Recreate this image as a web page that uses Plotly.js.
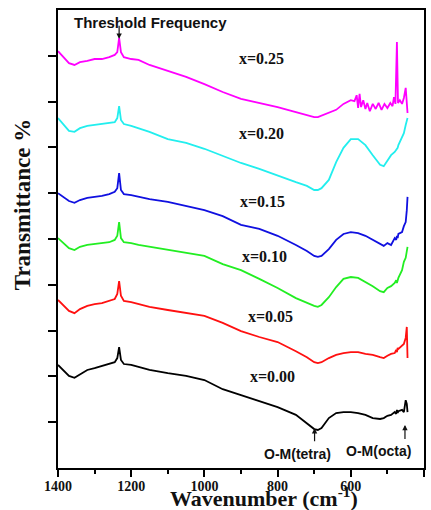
<!DOCTYPE html>
<html>
<head>
<meta charset="utf-8">
<script src="https://cdn.plot.ly/plotly-3.0.1.min.js"></script>
<style>html,body{margin:0;padding:0;background:#fff;}#chart{width:431px;height:510px;}</style>
</head>
<body>
<div id="chart"></div>
<script>
// Wavenumber (cm^-1), shared by the spectra x=0.00 ... x=0.20
const wavenumber = [1400,1385,1370,1355,1340,1320,1300,1280,1260,1245,1238,1233,1228,1220,1200,1180,1150,1100,1050,1000,950,900,850,800,750,720,700,690,680,660,640,620,600,580,560,540,520,510,500,490,480,476,474,472,470,460,455,450,447,445];
// the x=0.25 spectrum is noisier at low wavenumber, so it has its own sampling
const wavenumber025 = [1400,1385,1370,1355,1340,1320,1300,1280,1260,1245,1238,1233,1228,1220,1200,1180,1150,1100,1050,1000,950,900,850,800,750,720,700,690,680,660,640,620,600,590,584,580,576,572,566,560,555,548,540,532,524,516,508,500,492,486,482,478,474,471,466,460,455,450,447,445];

// Transmittance (offset, arbitrary %) per composition
const t025 = [91.0,89.7,88.4,88.0,88.6,88.9,89.3,89.3,89.7,90.2,90.8,93.9,90.8,89.7,89.3,89.1,88.0,86.7,85.4,83.8,82.1,80.6,79.7,78.8,77.7,77.1,76.6,76.6,76.9,77.5,78.2,79.5,80.3,80.1,81.4,78.6,81.7,78.8,80.3,78.4,79.7,77.9,79.5,78.4,79.7,78.2,79.5,78.6,79.7,79.0,81.0,79.5,93.0,79.7,80.3,79.5,80.8,83.0,80.3,77.5];
const t020 = [76.4,75.1,73.6,73.4,74.2,74.7,74.9,75.1,75.3,75.5,76.4,79.0,76.0,75.1,74.7,74.2,73.4,71.8,71.0,69.7,68.1,66.6,65.3,63.8,62.4,61.6,60.7,60.7,61.1,62.9,66.8,69.9,71.8,71.8,70.5,68.3,66.2,65.9,67.2,68.3,69.0,69.4,69.7,69.9,70.5,72.1,73.1,74.9,76.0,76.4];
const t015 = [60.0,59.2,58.3,57.9,58.5,59.0,59.2,59.4,59.8,60.3,61.1,64.4,60.7,59.8,59.6,59.2,58.7,58.1,57.2,56.3,55.0,53.1,52.2,50.7,48.7,47.4,46.3,46.1,46.3,47.8,49.8,51.1,51.5,51.3,50.7,49.8,48.9,48.5,49.1,48.7,50.2,49.8,50.7,50.2,51.1,51.5,52.8,53.7,56.3,59.2];
const t010 = [50.2,49.1,48.0,47.6,48.3,48.7,48.9,49.1,49.3,49.8,50.7,53.7,50.2,49.3,49.1,48.7,48.3,47.6,46.9,46.3,44.5,43.2,41.3,39.3,37.1,36.0,35.4,35.2,35.6,37.3,39.5,41.3,41.7,41.5,40.6,39.7,38.6,38.4,39.3,39.7,40.4,41.0,40.4,41.5,41.5,43.2,45.0,45.9,47.2,48.3];
const t005 = [36.7,35.4,34.3,33.8,34.7,35.4,35.8,36.0,36.5,36.9,38.0,40.8,37.6,36.5,36.2,35.8,35.2,34.5,33.8,33.2,31.7,29.9,28.6,27.5,25.5,24.2,23.1,22.9,23.1,24.0,24.7,25.1,25.3,25.3,24.9,24.7,24.2,24.0,24.5,24.9,25.1,25.8,25.3,26.2,26.0,26.6,27.1,28.4,30.8,24.0];
const t000 = [22.5,21.2,20.1,19.7,20.5,21.4,21.8,22.3,22.7,23.1,24.0,26.4,23.6,22.7,22.5,22.1,21.4,20.7,20.1,19.2,17.2,15.9,14.6,13.3,11.6,9.8,8.5,8.3,8.7,10.9,12.0,12.2,12.2,12.0,11.6,10.9,10.7,10.9,11.4,11.6,12.2,11.8,12.7,12.0,12.4,12.7,12.2,14.8,14.0,12.2];

const seriesNames = ['x=0.25','x=0.20','x=0.15','x=0.10','x=0.05','x=0.00'];
const seriesX = [wavenumber025,wavenumber,wavenumber,wavenumber,wavenumber,wavenumber];
const seriesValues = [t025,t020,t015,t010,t005,t000];
const seriesColors = ['#ff00ff','#22eeee','#1010e0','#22ee22','#ff1010','#000000'];

// label anchor points (wavenumber, transmittance)
const labelX = [844,844,841,836,819,814];
const labelY = [89.5,73.1,58.1,46.1,33.0,19.9];

const xTicks = [1400,1200,1000,800,600,400];
const yTicks = [10,20,30,40,50,60,70,80,90];

const traces = seriesValues.map((v,i)=>({
  x: seriesX[i], y: v, type:'scatter', mode:'lines', name: seriesNames[i],
  line:{color: seriesColors[i], width:1.8}, showlegend:false
}));

const serif = 'Liberation Serif, Times New Roman, serif';
const sans = 'Liberation Sans, Arial, sans-serif';

const annotations = seriesNames.map((n,i)=>({
  x: labelX[i], y: labelY[i], xref:'x', yref:'y', text:'<b>'+n+'</b>', showarrow:false,
  xanchor:'center', yanchor:'middle',
  font:{family: serif, size:16, color:'#111'}
}));

function arrow(x, y, ay){
  return {x:x, y:y, xref:'x', yref:'y', text:' ', showarrow:true, ax:0, ay:ay,
    arrowhead:2, arrowsize:0.9, arrowwidth:1.2, arrowcolor:'#111', borderpad:0,
    font:{size:1}};
}

annotations.push(
  {x:1148, y:97.2, xref:'x', yref:'y', text:'<b>Threshold Frequency</b>', showarrow:false, xanchor:'center', yanchor:'middle', font:{family:sans, size:15, color:'#111'}},
  arrow(1233, 93.7, -14),
  {x:745, y:3.1, xref:'x', yref:'y', text:'<b>O-M(tetra)</b>', showarrow:false, xanchor:'center', yanchor:'middle', font:{family:sans, size:14, color:'#111'}},
  arrow(699, 8.7, 14),
  {x:523, y:3.7, xref:'x', yref:'y', text:'<b>O-M(octa)</b>', showarrow:false, xanchor:'center', yanchor:'middle', font:{family:sans, size:14, color:'#111'}},
  arrow(452, 9.4, 15),
  {x:0.563, y:-0.063, xref:'paper', yref:'paper', xanchor:'center', yanchor:'middle', text:'<b>Wavenumber (cm<sup>-1</sup>)</b>', showarrow:false, font:{family:serif, size:22, color:'#111'}},
  {x:-0.098, y:0.574, xref:'paper', yref:'paper', xanchor:'center', yanchor:'middle', text:'<b>Transmittance %</b>', textangle:-90, showarrow:false, font:{family:serif, size:23, color:'#111'}}
);

const layout = {
  width:431, height:510,
  margin:{l:58, r:7, t:10, b:42},
  paper_bgcolor:'#fff', plot_bgcolor:'#fff',
  xaxis:{
    range:[1400,400], tickvals:xTicks, ticktext:xTicks.map(String),
    ticks:'outside', ticklen:7, tickwidth:2, tickcolor:'#000',
    minor:{dtick:100, tick0:400, ticks:'outside', ticklen:4, tickwidth:2, tickcolor:'#000'},
    showline:true, linewidth:2, linecolor:'#000', mirror:true,
    showgrid:false, zeroline:false,
    ticklabelstandoff:-3,
    tickfont:{family:serif, size:14, color:'#111', weight:'bold'}
  },
  yaxis:{
    range:[0,100], tickvals:yTicks, showticklabels:false,
    ticks:'outside', ticklen:8, tickwidth:2, tickcolor:'#000',
    showline:true, linewidth:2, linecolor:'#000', mirror:true,
    showgrid:false, zeroline:false
  },
  annotations: annotations,
  showlegend:false
};

Plotly.newPlot('chart', traces, layout, {displayModeBar:false, staticPlot:true});
</script>
</body>
</html>
